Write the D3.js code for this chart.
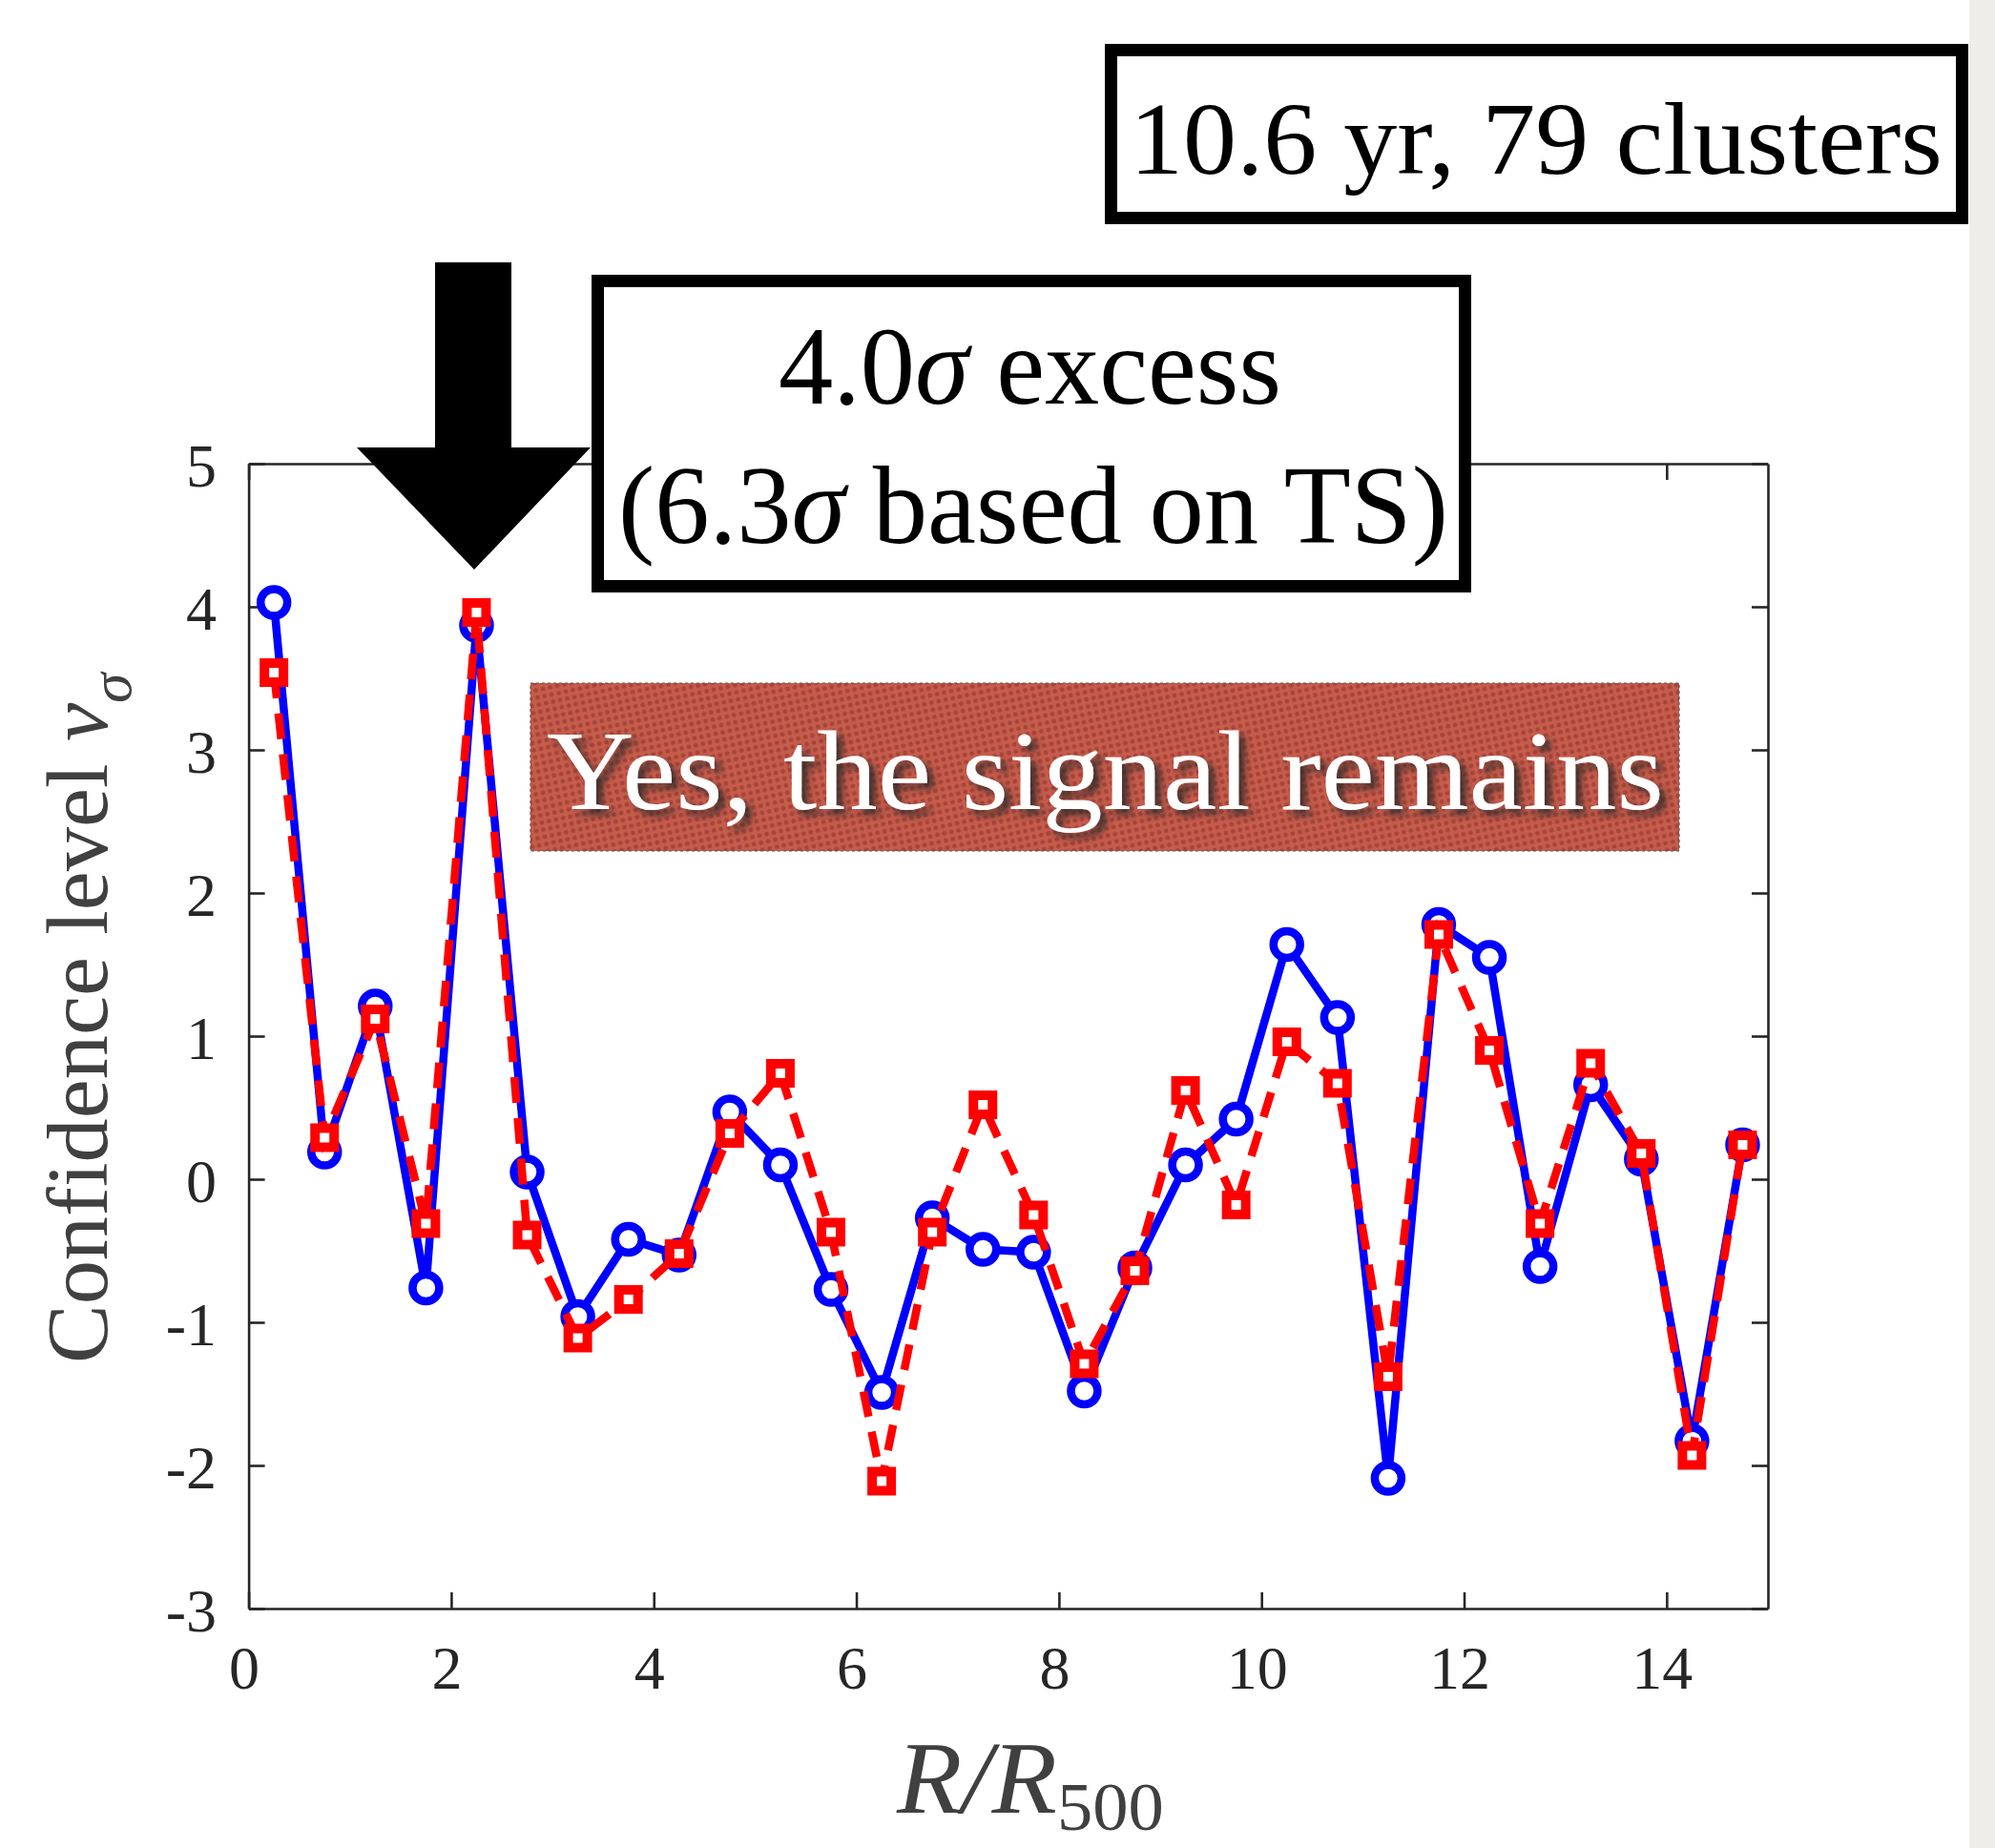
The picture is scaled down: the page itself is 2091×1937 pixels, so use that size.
<!DOCTYPE html>
<html>
<head>
<meta charset="utf-8">
<script src="https://cdn.jsdelivr.net/npm/d3@7"></script>
<style>
  html, body { margin: 0; padding: 0; background: #ffffff; }
  svg { display: block; }
</style>
</head>
<body>
<svg id="chart"></svg>
<script>
// Radial bins (R/R500) and the two confidence-level profiles
const radius = [0.25, 0.75, 1.25, 1.75, 2.25, 2.75, 3.25, 3.75, 4.25, 4.75,
                5.25, 5.75, 6.25, 6.75, 7.25, 7.75, 8.25, 8.75, 9.25, 9.75,
                10.25, 10.75, 11.25, 11.75, 12.25, 12.75, 13.25, 13.75, 14.25, 14.75];
const sigmaCircle = [4.03, 0.19, 1.21, -0.76, 3.87, 0.05, -0.96, -0.42, -0.53, 0.47,
                     0.10, -0.77, -1.49, -0.27, -0.49, -0.51, -1.48, -0.62, 0.10, 0.42,
                     1.64, 1.13, -2.09, 1.78, 1.55, -0.61, 0.66, 0.14, -1.83, 0.24];
const sigmaSquare = [3.54, 0.29, 1.12, -0.31, 3.96, -0.39, -1.11, -0.84, -0.52, 0.32,
                     0.74, -0.37, -2.11, -0.37, 0.52, -0.25, -1.29, -0.64, 0.62, -0.18,
                     0.96, 0.67, -1.38, 1.71, 0.90, -0.31, 0.81, 0.18, -1.93, 0.24];
const xTicks = [0, 2, 4, 6, 8, 10, 12, 14];
const yTicks = [-3, -2, -1, 0, 1, 2, 3, 4, 5];

const W = 2091, H = 1937;
const plot = { left: 260.6, right: 1853, top: 486, bottom: 1686 };
const serif = "'Liberation Serif', 'Times New Roman', serif";
const axisColor = "#262626";

const svg = d3.select("#chart").attr("width", W).attr("height", H);
const defs = svg.append("defs");

// dotted brick texture for the banner
const pat = defs.append("pattern")
  .attr("id", "dots").attr("patternUnits", "userSpaceOnUse")
  .attr("width", 7.6).attr("height", 7.6)
  .attr("patternTransform", "rotate(-12)");
pat.append("rect").attr("width", 7.6).attr("height", 7.6).attr("fill", "#c65c4b");
pat.append("circle").attr("cx", 3.8).attr("cy", 3.8).attr("r", 2.4).attr("fill", "#a6443a");

const shadow = defs.append("filter").attr("id", "shadow")
  .attr("x", "-5%").attr("y", "-20%").attr("width", "115%").attr("height", "150%");
shadow.append("feDropShadow").attr("dx", 6).attr("dy", 6).attr("stdDeviation", 3.5)
  .attr("flood-color", "#2a2a2a").attr("flood-opacity", 0.85);

// page background and the paper strip on the right edge
svg.append("rect").attr("width", W).attr("height", H).attr("fill", "#ffffff");
svg.append("rect").attr("x", 2064).attr("y", 0).attr("width", W - 2064).attr("height", H)
  .attr("fill", "#efede9");

const x = d3.scaleLinear().domain([0, 15]).range([plot.left, plot.right]);
const y = d3.scaleLinear().domain([-3, 5]).range([plot.bottom, plot.top]);

// stretch a text element horizontally (in its own frame) to a given width
function fitWidth(sel, x0, target) {
  const w = sel.node().getBBox().width;
  const k = target / w;
  const prev = sel.attr("transform") || "";
  sel.attr("transform", `${prev} translate(${x0},0) scale(${k},1) translate(${-x0},0)`);
}

// axes (ticks point inward on all four sides)
const gAxes = svg.append("g");
function styleAxis(g) {
  g.select(".domain").attr("stroke", axisColor).attr("stroke-width", 2.6);
  g.selectAll(".tick line").attr("stroke", axisColor).attr("stroke-width", 2.6);
  g.selectAll(".tick text").attr("fill", axisColor)
    .style("font-family", serif).style("font-size", "64px");
}
gAxes.append("g").attr("transform", `translate(0,${plot.bottom})`)
  .call(d3.axisBottom(x).tickValues(xTicks).tickSizeInner(-17).tickSizeOuter(0).tickPadding(38.5))
  .call(styleAxis)
  .call(g => g.selectAll(".tick text").attr("dx", -5));
gAxes.append("g").attr("transform", `translate(0,${plot.top})`)
  .call(d3.axisTop(x).tickValues(xTicks).tickSizeInner(-17).tickSizeOuter(0).tickFormat(""))
  .call(styleAxis);
gAxes.append("g").attr("transform", `translate(${plot.left},0)`)
  .call(d3.axisLeft(y).tickValues(yTicks).tickSizeInner(-17).tickSizeOuter(0).tickPadding(33.6)
    .tickFormat(d => d < 0 ? "-" + Math.abs(d) : String(d)))
  .call(styleAxis)
  .call(g => g.selectAll(".tick text").attr("dy", "0.36em"));
gAxes.append("g").attr("transform", `translate(${plot.right},0)`)
  .call(d3.axisRight(y).tickValues(yTicks).tickSizeInner(-17).tickSizeOuter(0).tickFormat(""))
  .call(styleAxis);

// data series
const line = d3.line().x(d => x(d[0])).y(d => y(d[1]));
const circlePts = radius.map((r, i) => [r, sigmaCircle[i]]);
const squarePts = radius.map((r, i) => [r, sigmaSquare[i]]);

const gData = svg.append("g");
gData.append("path").datum(circlePts).attr("d", line)
  .attr("fill", "none").attr("stroke", "#0000ff").attr("stroke-width", 8.5)
  .attr("stroke-linejoin", "round");
gData.selectAll("circle.m").data(circlePts).join("circle").attr("class", "m")
  .attr("cx", d => x(d[0])).attr("cy", d => y(d[1])).attr("r", 14)
  .attr("fill", "#ffffff").attr("stroke", "#0000ff").attr("stroke-width", 8.5);

gData.append("path").datum(squarePts).attr("d", line)
  .attr("fill", "none").attr("stroke", "#ff0000").attr("stroke-width", 8.5)
  .attr("stroke-dasharray", "27,16");
const sq = 20;
gData.selectAll("rect.m").data(squarePts).join("rect").attr("class", "m")
  .attr("x", d => x(d[0]) - sq / 2).attr("y", d => y(d[1]) - sq / 2)
  .attr("width", sq).attr("height", sq)
  .attr("fill", "#ffffff").attr("stroke", "#ff0000").attr("stroke-width", 10);

// axis titles
const xt = svg.append("text").attr("x", 940).attr("y", 1900)
  .attr("fill", "#404040").style("font-family", serif);
xt.append("tspan").style("font-style", "italic").style("font-size", "108px").text("R/R");
xt.append("tspan").attr("dy", 18).style("font-size", "72px").text("500");
fitWidth(xt, 940, 281);

const yt = svg.append("text").attr("x", 0).attr("y", 0)
  .attr("transform", "translate(112,1429) rotate(-90)")
  .attr("fill", "#404040").style("font-family", serif).style("font-size", "90px");
yt.append("tspan").text("Confidence level ");
yt.append("tspan").style("font-style", "italic").style("font-size", "88px").text("ν");
yt.append("tspan").attr("dy", 25).style("font-style", "italic").style("font-size", "62px").text("σ");
fitWidth(yt, 0, 726);

// arrow pointing at the peak bin
const ax = 497;
svg.append("polygon")
  .attr("points", [[ax - 41, 275], [ax + 39, 275], [ax + 39, 469], [ax + 122, 469],
                   [ax, 597], [ax - 123, 469], [ax - 41, 469]].map(p => p.join(",")).join(" "))
  .attr("fill", "#000000");

// annotation boxes
svg.append("rect").attr("x", 626.5).attr("y", 294.5).attr("width", 909).attr("height", 320)
  .attr("fill", "#ffffff").attr("stroke", "#000000").attr("stroke-width", 13);
const l1 = svg.append("text").attr("x", 816).attr("y", 423)
  .style("font-family", serif).style("font-size", "116px").attr("fill", "#000");
l1.append("tspan").text("4.0");
l1.append("tspan").style("font-style", "italic").text("σ");
l1.append("tspan").text(" excess");
fitWidth(l1, 816, 527);
const l2 = svg.append("text").attr("x", 648).attr("y", 569)
  .style("font-family", serif).style("font-size", "116px").attr("fill", "#000");
l2.append("tspan").text("(6.3");
l2.append("tspan").style("font-style", "italic").text("σ");
l2.append("tspan").text(" based on TS)");
fitWidth(l2, 648, 870);

svg.append("rect").attr("x", 1164.5).attr("y", 52.5).attr("width", 892).attr("height", 176)
  .attr("fill", "#ffffff").attr("stroke", "#000000").attr("stroke-width", 13);
const t1 = svg.append("text").attr("x", 1184).attr("y", 182)
  .style("font-family", serif).style("font-size", "109px").attr("fill", "#000")
  .text("10.6 yr, 79 clusters");
fitWidth(t1, 1184, 852);

// banner
svg.append("rect").attr("x", 556).attr("y", 716).attr("width", 1204).attr("height", 176)
  .attr("fill", "url(#dots)").attr("stroke", "#555").attr("stroke-width", 1.2)
  .attr("stroke-dasharray", "3,3");
const bn = svg.append("text").attr("x", 573).attr("y", 848)
  .style("font-family", serif).style("font-size", "118px").attr("fill", "#ffffff")
  .attr("filter", "url(#shadow)")
  .text("Yes, the signal remains");
fitWidth(bn, 573, 1171);
</script>
</body>
</html>
